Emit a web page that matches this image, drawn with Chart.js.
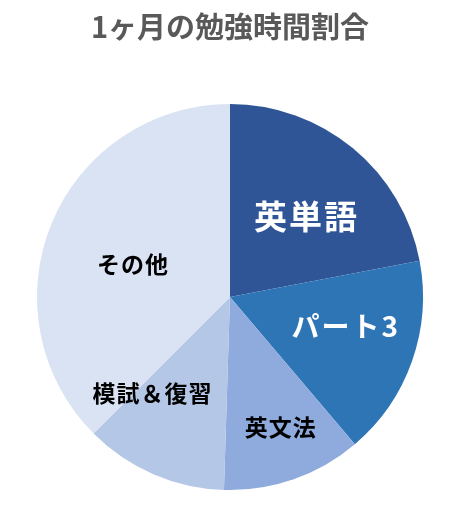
<!DOCTYPE html>
<html><head><meta charset="utf-8">
<script src="https://cdn.jsdelivr.net/npm/chart.js@4"></script>
<style>html,body{margin:0;padding:0;background:#fff;}#wrap{width:460px;height:520px;}</style>
</head><body><div id="wrap"><canvas id="c"></canvas></div>
<script>
const categories = ['英単語', 'パート3', '英文法', '模試＆復習', 'その他'];
const values = [22, 16.8, 11.7, 12, 37.5];
const sliceColors = ['#2F5597', '#2E75B6', '#8FAADC', '#B4C7E7', '#DAE3F3'];
const labelColors = ['#FFFFFF', '#FFFFFF', '#000000', '#000000', '#000000'];
const labelSizes = [33, 28, 23, 23, 23];
const labelRadius = [0.575, 0.62, 0.725, 0.64, 0.53];
const labelAngleShift = [4, -5, -2, 15.5, -4];
const titleText = '1ヶ月の勉強時間割合';

const sliceLabels = {
  id: 'sliceLabels',
  afterDatasetsDraw(chart) {
    const ctx = chart.ctx;
    const meta = chart.getDatasetMeta(0);
    meta.data.forEach((arc, i) => {
      const p = arc.getProps(['x','y','startAngle','endAngle','outerRadius'], true);
      const a = (p.startAngle + p.endAngle) / 2 + labelAngleShift[i] * Math.PI / 180;
      const r = p.outerRadius * labelRadius[i];
      ctx.save();
      ctx.fillStyle = labelColors[i];
      ctx.font = 'bold ' + labelSizes[i] + 'px "Noto Sans CJK JP", "Noto Sans", sans-serif';
      ctx.textAlign = 'center';
      ctx.textBaseline = 'middle';
      if (ctx.letterSpacing !== undefined) ctx.letterSpacing = (i < 2 ? '2px' : '1px');
      ctx.fillText(categories[i], p.x + r * Math.cos(a), p.y + r * Math.sin(a));
      ctx.restore();
    });
  }
};

new Chart(document.getElementById('c'), {
  type: 'pie',
  data: {
    labels: categories,
    datasets: [{ data: values, backgroundColor: sliceColors, borderWidth: 0 }]
  },
  options: {
    responsive: true,
    maintainAspectRatio: false,
    animation: false,
    layout: { padding: { left: 37, right: 37, bottom: 30, top: 0 } },
    plugins: {
      legend: { display: false },
      tooltip: { enabled: false },
      title: {
        display: true,
        text: titleText,
        color: '#595959',
        font: { family: '"Noto Sans CJK JP", "Noto Sans", sans-serif', size: 29, weight: 'bold', lineHeight: 1.2 },
        padding: { top: 10, bottom: 59.2 }
      }
    }
  },
  plugins: [sliceLabels]
});
</script></body></html>
